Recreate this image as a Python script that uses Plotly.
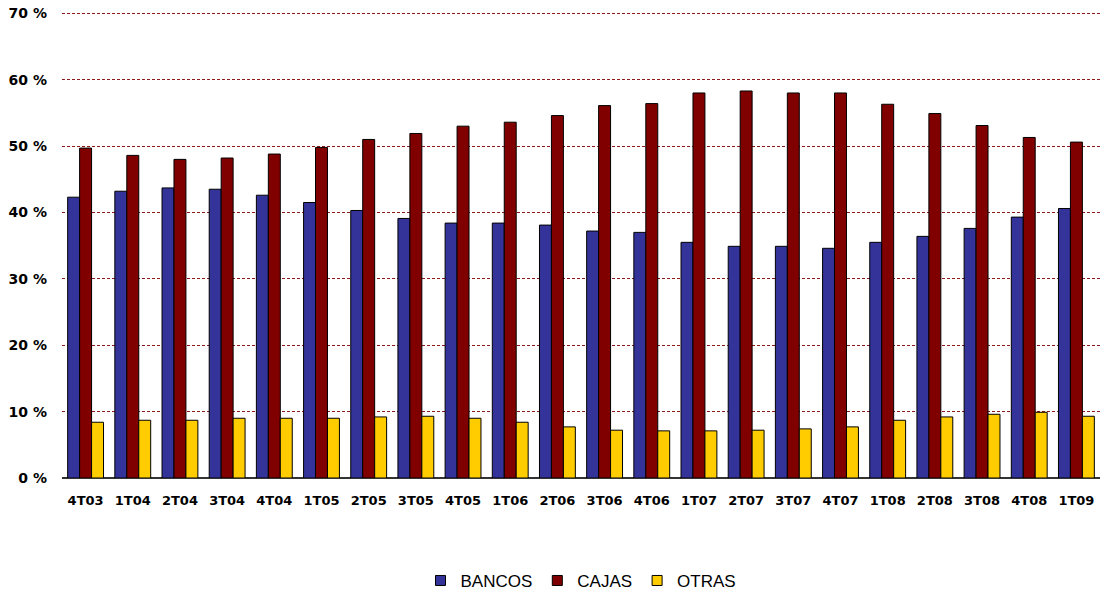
import plotly.graph_objects as go

trimestres = ["4T03", "1T04", "2T04", "3T04", "4T04", "1T05", "2T05", "3T05", "4T05",
              "1T06", "2T06", "3T06", "4T06", "1T07", "2T07", "3T07", "4T07",
              "1T08", "2T08", "3T08", "4T08", "1T09"]

bancos = [42.3, 43.2, 43.7, 43.5, 42.6, 41.5, 40.3, 39.1, 38.4, 38.4, 38.1, 37.2,
          37.0, 35.5, 34.9, 34.9, 34.6, 35.5, 36.4, 37.6, 39.3, 40.6]
cajas = [49.7, 48.6, 48.0, 48.2, 48.8, 49.8, 51.0, 51.9, 53.0, 53.6, 54.6, 56.1,
         56.4, 58.0, 58.3, 58.0, 58.0, 56.3, 54.9, 53.1, 51.3, 50.6]
otras = [8.4, 8.7, 8.7, 9.0, 9.0, 9.0, 9.2, 9.3, 9.0, 8.4, 7.7, 7.2,
         7.1, 7.1, 7.2, 7.4, 7.7, 8.7, 9.2, 9.6, 9.9, 9.3]

y_ticks = [0, 10, 20, 30, 40, 50, 60, 70]

series = [("BANCOS", bancos, "#333399"),
          ("CAJAS", cajas, "#800000"),
          ("OTRAS", otras, "#FFCC00")]

fig = go.Figure()
for name, vals, color in series:
    fig.add_trace(go.Bar(
        x=trimestres, y=vals, name=name, showlegend=False,
        marker=dict(color=color, line=dict(color="black", width=1)),
    ))

# small square legend keys
for name, vals, color in series:
    fig.add_trace(go.Scatter(
        x=[None], y=[None], mode="markers", name=name,
        marker=dict(symbol="square", size=10, color=color,
                    line=dict(color="black", width=1)),
    ))

fig.update_layout(
    width=1103, height=594,
    margin=dict(l=62, r=3, t=10, b=116, autoexpand=False),
    paper_bgcolor="white", plot_bgcolor="white",
    barmode="group", bargap=0.24, bargroupgap=0,
    showlegend=True,
    legend=dict(orientation="h", x=0.5, xanchor="center",
                yref="container", y=0.022, yanchor="middle",
                font=dict(family="Liberation Sans, Arial", size=17, color="black"),
                itemwidth=30, tracegroupgap=0),
    xaxis=dict(
        tickfont=dict(family="DejaVu Sans", size=13, color="black", weight="bold"),
        showgrid=False, showline=False, ticks="", ticklabelstandoff=13,
    ),
    yaxis=dict(
        range=[0, 70.5], tickvals=y_ticks,
        ticktext=[f"{v} %" for v in y_ticks],
        tickfont=dict(family="DejaVu Sans", size=14, color="black", weight="bold"),
        showgrid=True, gridcolor="#8B1A1A", griddash="3px,2px", gridwidth=1,
        zeroline=True, zerolinecolor="#333333", zerolinewidth=1.5,
        showline=False, ticks="", ticklabelstandoff=14,
    ),
)

fig.write_html("out.html")
